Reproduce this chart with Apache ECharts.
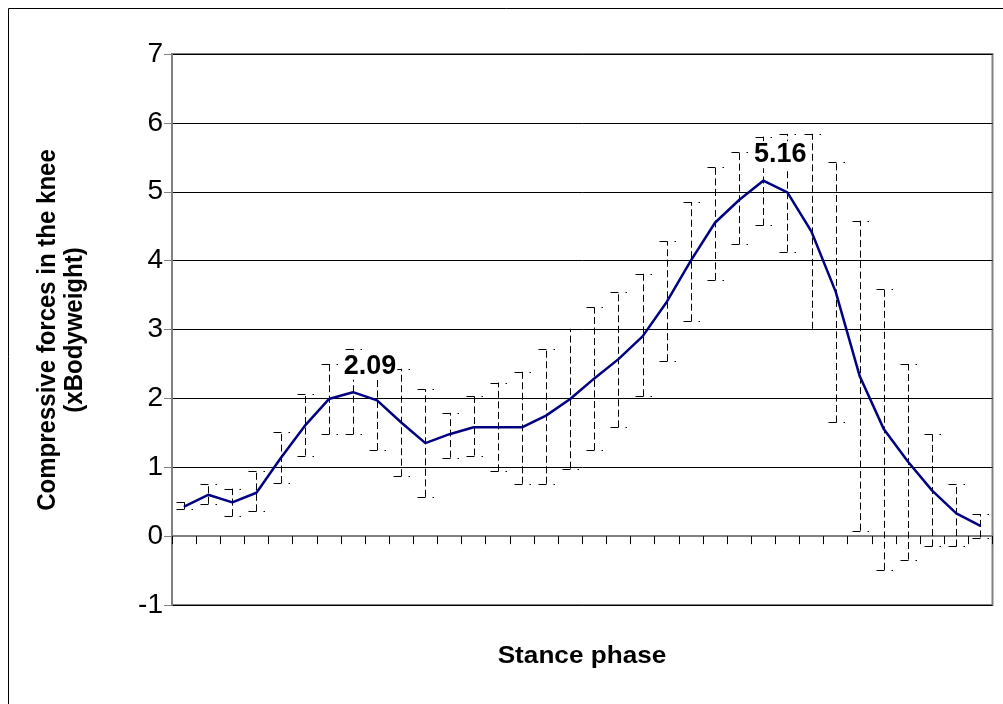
<!DOCTYPE html>
<html>
<head>
<meta charset="utf-8">
<script src="https://cdn.jsdelivr.net/npm/echarts@6/dist/echarts.min.js"></script>
<style>
  html, body { margin: 0; padding: 0; background: #fff; }
  #chart { width: 1003px; height: 704px; }
</style>
</head>
<body>
<div id="chart"></div>
<script>
// Stance-phase samples (34 intervals)
const phases = Array.from({ length: 34 }, (_, i) => String(i + 1));

// Mean compressive force in the knee (x bodyweight)
const meanForce = [0.43, 0.60, 0.49, 0.63, 1.13, 1.60, 1.99, 2.09, 1.97, 1.65,
                   1.35, 1.48, 1.58, 1.58, 1.58, 1.75, 1.99, 2.29, 2.57, 2.90,
                   3.40, 4.00, 4.55, 4.88, 5.16, 4.99, 4.42, 3.55, 2.32, 1.55,
                   1.08, 0.66, 0.33, 0.15];

// Upper and lower ends of the spread around the mean
const upperForce = [0.50, 0.76, 0.69, 0.94, 1.51, 2.06, 2.50, 2.71, 2.45, 2.43,
                    2.13, 1.79, 2.03, 2.23, 2.39, 2.71, 3.01, 3.32, 3.55, 3.81,
                    4.28, 4.85, 5.36, 5.57, 5.80, 5.84, 5.84, 5.43, 4.58, 3.59,
                    2.50, 1.48, 0.76, 0.32];
const lowerForce = [0.39, 0.47, 0.29, 0.36, 0.77, 1.17, 1.48, 1.48, 1.25, 0.87,
                    0.57, 1.14, 1.17, 0.94, 0.76, 0.76, 0.98, 1.25, 1.58, 2.03,
                    2.54, 3.12, 3.72, 4.24, 4.51, 4.13, 3.01, 1.65, 0.08, -0.49,
                    -0.34, -0.15, -0.15, -0.02];

// Peaks that carry a value label
const labelledPeaks = [7, 24];

const yTitle = 'Compressive forces in the knee\n(xBodyweight)';
const xTitle = 'Stance phase';

const FONT = '"Liberation Sans", Arial, sans-serif';

const chart = echarts.init(document.getElementById('chart'), null, { renderer: 'canvas' });

function renderErrorBar(params, api) {
  const idx = api.value(0);
  const lo = api.coord([idx, api.value(1)]);
  const hi = api.coord([idx, api.value(2)]);
  const x = Math.round(lo[0]) + 0.5;
  const stroke = { stroke: '#000', lineWidth: 1 };
  const cap = (y) => {
    const yy = Math.round(y) + 0.5;
    return [
      { type: 'line', shape: { x1: x - 8, y1: yy, x2: x, y2: yy }, style: stroke },
      { type: 'line', shape: { x1: x + 7, y1: yy, x2: x + 8.5, y2: yy }, style: stroke }
    ];
  };
  return {
    type: 'group',
    children: [
      {
        type: 'line',
        shape: { x1: x, y1: lo[1], x2: x, y2: hi[1] },
        style: { stroke: '#000', lineWidth: 1, lineDash: [7, 3.5] }
      },
      ...cap(hi[1]),
      ...cap(lo[1])
    ]
  };
}

const peakLabel = {
  show: true,
  position: 'top',
  distance: 12,
  offset: [17, 0],
  formatter: (p) => p.value.toFixed(2),
  color: '#000',
  fontSize: 27,
  fontWeight: 'bold',
  fontFamily: FONT,
  backgroundColor: '#fff',
  padding: [0, 1]
};

const option = {
  animation: false,
  backgroundColor: '#fff',
  grid: {
    left: 172, right: 10.5, top: 54, bottom: 99,
    show: true, borderColor: '#808080', borderWidth: 2, backgroundColor: 'transparent'
  },
  xAxis: {
    type: 'category',
    data: phases,
    boundaryGap: true,
    axisLine: { onZero: true, lineStyle: { color: '#808080', width: 2 } },
    axisTick: { show: true, interval: 0, length: 8, lineStyle: { color: '#000', width: 1 } },
    axisLabel: { show: false },
    splitLine: { show: false }
  },
  yAxis: {
    type: 'value',
    min: -1, max: 7, interval: 1,
    axisLine: { show: true, lineStyle: { color: '#808080', width: 2 } },
    axisTick: { show: true, length: 8, lineStyle: { color: '#808080', width: 1 } },
    axisLabel: { color: '#000', fontSize: 28, fontFamily: FONT, margin: 9 },
    splitLine: { show: true, lineStyle: { color: '#000', width: 1 } }
  },
  series: [
    {
      type: 'custom',
      z: 2,
      renderItem: renderErrorBar,
      data: phases.map((_, i) => [i, lowerForce[i], upperForce[i]]),
      silent: true
    },
    {
      type: 'line',
      z: 3,
      data: meanForce.map((v, i) => labelledPeaks.includes(i)
        ? { value: v, label: peakLabel }
        : v),
      showSymbol: true,
      symbol: 'circle',
      symbolSize: 1,
      lineStyle: { color: '#000080', width: 2.5 },
      itemStyle: { color: '#000080' },
      label: { show: false },
      silent: true
    }
  ],
  graphic: [
    {
      type: 'rect',
      shape: { x: 8.5, y: 8.5, width: 1100, height: 800 },
      style: { fill: 'none', stroke: '#000', lineWidth: 1 },
      silent: true
    },
    {
      type: 'text',
      x: 61.5, y: 330,
      rotation: Math.PI / 2,
      scaleY: 1.09,
      style: {
        text: yTitle,
        fontSize: 24, fontWeight: 'bold', fontFamily: FONT,
        fill: '#000', align: 'center', verticalAlign: 'middle', lineHeight: 25
      }
    },
    {
      type: 'text',
      x: 582, y: 656,
      scaleX: 1.09,
      style: {
        text: xTitle,
        fontSize: 24, fontWeight: 'bold', fontFamily: FONT,
        fill: '#000', align: 'center', verticalAlign: 'middle'
      }
    }
  ]
};

chart.setOption(option);
</script>
</body>
</html>
